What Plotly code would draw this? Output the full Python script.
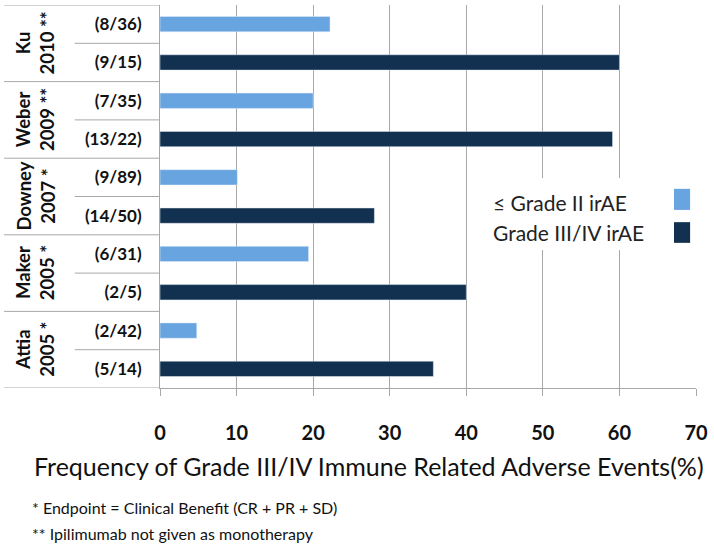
import plotly.graph_objects as go

# ---- data ----
studies = ["Ku<br>2010 **", "Weber<br>2009 **", "Downey<br>2007 *", "Maker<br>2005 *", "Attia<br>2005 *"]
low_labels = ["(8/36)", "(7/35)", "(9/89)", "(6/31)", "(2/42)"]
high_labels = ["(9/15)", "(13/22)", "(14/50)", "(2/5)", "(5/14)"]
low_values = [22.2, 20.0, 10.1, 19.4, 4.8]
high_values = [60.0, 59.1, 28.0, 40.0, 35.7]
x_ticks = [0, 10, 20, 30, 40, 50, 60, 70]
series_names = ["≤ Grade II irAE", "Grade III/IV irAE"]
x_title = "Frequency of Grade III/IV Immune Related Adverse Events(%)"
footnotes = ["* Endpoint = Clinical Benefit (CR + PR + SD)", "** Ipilimumab not given as monotherapy"]

LIGHT = "#68a4e0"
DARK = "#12304f"
GRID = "#a8a8a8"
FONT = "Lato"

rows = []
for lo, hi in zip(low_labels, high_labels):
    rows += [lo, hi]

fig = go.Figure()
fig.add_trace(go.Bar(y=low_labels, x=low_values, orientation="h", marker_color=LIGHT,
                     width=0.4, name=series_names[0], showlegend=False))
fig.add_trace(go.Bar(y=high_labels, x=high_values, orientation="h", marker_color=DARK,
                     width=0.4, name=series_names[1], showlegend=False))

shapes = []
annotations = []
# table-like separators on the left
for g in range(len(studies) + 1):
    yb = 2 * g - 0.5
    shapes.append(dict(type="line", xref="paper", yref="y", x0=-0.291, x1=0, y0=yb, y1=yb,
                       line=dict(color=GRID, width=1)))
for g in range(len(studies)):
    yb = 2 * g + 0.5
    shapes.append(dict(type="line", xref="paper", yref="y", x0=-0.159, x1=0, y0=yb, y1=yb,
                       line=dict(color=GRID, width=1)))
    annotations.append(dict(text=studies[g], xref="paper", yref="y", x=-0.233, y=2 * g + 0.5,
                            textangle=-90, showarrow=False, xanchor="center", yanchor="middle",
                            font=dict(family=FONT, size=18.5, color="#111", weight="bold")))

# legend (text left, swatch right)
shapes.append(dict(type="rect", xref="paper", yref="paper", x0=0.597, x1=0.99, y0=0.36, y1=0.548,
                   fillcolor="white", line=dict(width=0), layer="above"))
sw = [(0.465, 0.52, LIGHT), (0.379, 0.433, DARK)]
ty = [0.4856, 0.407]
for (y0, y1, c), t, name in zip(sw, ty, series_names):
    shapes.append(dict(type="rect", xref="paper", yref="paper", x0=0.959, x1=0.989, y0=y0, y1=y1,
                       fillcolor=c, line=dict(width=0), layer="above"))
    annotations.append(dict(text=name, xref="paper", yref="paper", x=0.6175, y=t, xanchor="left",
                            yanchor="middle", showarrow=False,
                            font=dict(family=FONT, size=21, color="#222")))

# axis title and footnotes
annotations.append(dict(text=x_title, xref="paper", yref="paper", x=0.39, y=-0.204, xanchor="center",
                        yanchor="middle", showarrow=False, font=dict(family=FONT, size=25, color="#111")))
for i, f in enumerate(footnotes):
    annotations.append(dict(text=f, xref="paper", yref="paper", x=-0.2425, y=[-0.313, -0.379][i],
                            xanchor="left", yanchor="middle", showarrow=False,
                            font=dict(family=FONT, size=16, color="#111")))

fig.update_layout(
    width=714, height=552,
    margin=dict(l=160, r=18, t=5, b=164),
    paper_bgcolor="white", plot_bgcolor="white",
    barmode="overlay",
    shapes=shapes, annotations=annotations,
    showlegend=False,
    xaxis=dict(range=[0, 70], tickvals=x_ticks, showgrid=True, gridcolor=GRID, gridwidth=1,
               showline=True, linecolor=GRID, ticks="outside", ticklen=7, tickcolor=GRID,
               zeroline=False, ticklabelstandoff=20,
               tickfont=dict(family=FONT, size=20, color="#111", weight="bold")),
    yaxis=dict(categoryorder="array", categoryarray=rows, range=[9.5, -0.5],
               showline=True, linecolor=GRID, showgrid=False, ticks="", ticklabelstandoff=14,
               tickfont=dict(family=FONT, size=17, color="#111", weight="bold")),
)

fig.write_html("out.html", config={"displayModeBar": False},
               post_script="document.body.style.margin='0';")
